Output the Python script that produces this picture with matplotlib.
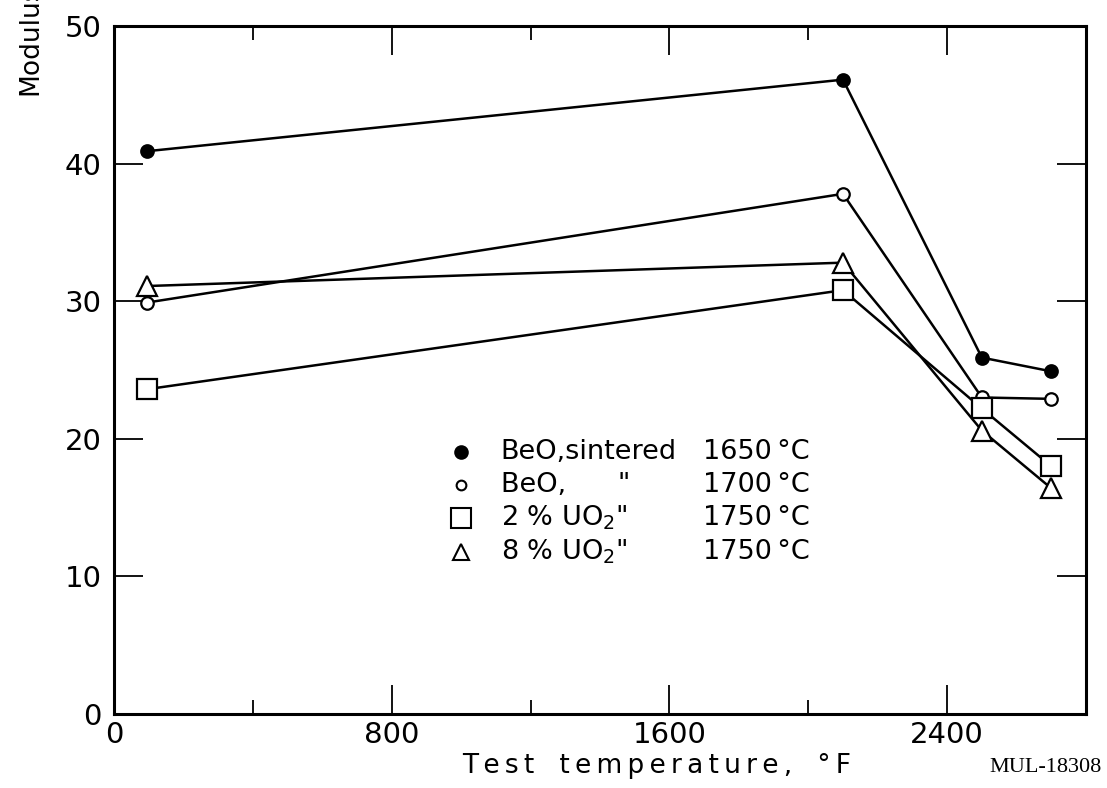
import matplotlib
matplotlib.use("Agg")
import matplotlib.pyplot as plt

plt.rcParams['font.family'] = ['DejaVu Sans']

# data (test temperature in F, modulus)
temps = [95, 2100, 2500, 2700]
beo_1650 = [40.9, 46.1, 25.9, 24.9]
beo_1700 = [29.9, 37.8, 23.0, 22.9]
uo2_2pct = [23.6, 30.8, 22.2, 18.0]
uo2_8pct = [31.1, 32.8, 20.6, 16.4]

x_major = [0, 800, 1600, 2400]
x_minor = [400, 1200, 2000]
y_major = [0, 10, 20, 30, 40, 50]

legend_names = ['BeO,sintered', 'BeO,      "', '2 % UO$_2$"', '8 % UO$_2$"']
legend_temps = ['1650\u2009°C', '1700\u2009°C', '1750\u2009°C', '1750\u2009°C']

fig = plt.figure(figsize=(11.07, 7.88), dpi=100)
ax = fig.add_axes([0.103, 0.094, 0.878, 0.873])

series = [
    (beo_1650, dict(marker='o', ms=9, mfc='black')),
    (beo_1700, dict(marker='o', ms=9, mfc='white')),
    (uo2_2pct, dict(marker='s', ms=14, mfc='white')),
    (uo2_8pct, dict(marker='^', ms=14, mfc='white')),
]
for vals, style in series:
    ax.plot(temps, vals, color='black', lw=1.8, mec='black', mew=1.6, **style)

ax.set_xlim(0, 2800)
ax.set_ylim(0, 50)
ax.set_xticks(x_major)
ax.set_xticks(x_minor, minor=True)
ax.set_yticks(y_major)
ax.tick_params(which='major', direction='in', length=21, width=1.3,
               top=True, right=True, labelsize=21, pad=9)
ax.tick_params(axis='x', which='major', pad=5)
ax.tick_params(which='minor', direction='in', length=10, width=1.3,
               top=True)
for s in ax.spines.values():
    s.set_linewidth(2.2)

# hand drawn style legend
rows_y = [0.381, 0.333, 0.285, 0.236]
marks = [('o', 'black', 9), ('o', 'white', 7), ('s', 'white', 14), ('^', 'white', 12)]
for ry, (m, fc, ms), name, t in zip(rows_y, marks, legend_names, legend_temps):
    ax.plot([0.357], [ry], transform=ax.transAxes, marker=m, ms=ms, mfc=fc,
            mec='black', mew=1.5, ls='none')
    ax.text(0.398, ry, name, transform=ax.transAxes, fontsize=19.5,
            va='center', ha='left')
    ax.text(0.716, ry, t, transform=ax.transAxes, fontsize=19.5,
            va='center', ha='right')

ts = '\u2009'
xlabel = ts.join('Test') + '   ' + ts.join('temperature,') + '   °' + ts + 'F'
fig.text(0.593, 0.012, xlabel, fontsize=19, ha='center', va='bottom')
fig.text(0.016, 0.88, 'Modulus', fontsize=19, rotation=90, ha='left',
         va='bottom')
fig.text(0.995, 0.014, 'MUL-18308', fontsize=16, family='Liberation Serif',
         ha='right', va='bottom')

fig.savefig('out.png', dpi=100)
